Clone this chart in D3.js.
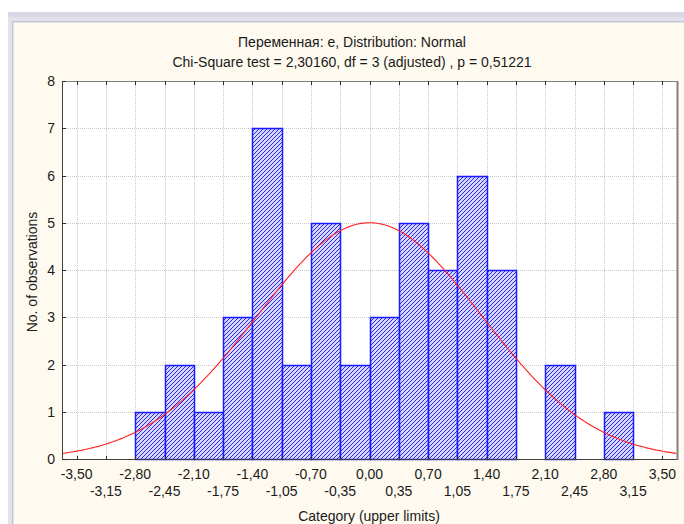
<!DOCTYPE html>
<html>
<head>
<meta charset="utf-8">
<script src="https://cdn.jsdelivr.net/npm/d3@7"></script>
<style>
  html, body { margin: 0; padding: 0; background: #fff; }
  svg { display: block; font-family: "Liberation Sans", Arial, sans-serif; }
</style>
</head>
<body>
<svg id="chart" width="684" height="524"></svg>
<script>
// histogram of variable e with fitted normal curve (Statistica style)

const width = 684;
const height = 524;

// bin upper limits, counts (bin width 0.35)
const binUpper = [-2.45, -2.10, -1.75, -1.40, -1.05, -0.70, -0.35, 0.00, 0.35, 0.70, 1.05, 1.40, 1.75, 2.10, 2.45, 2.80, 3.15];
const counts   = [1, 2, 1, 3, 7, 2, 5, 2, 3, 5, 4, 6, 4, 0, 2, 0, 1];
const binWidth = 0.35;

// tick labels on the x axis, two staggered rows
const xTicksTop    = [-3.50, -2.80, -2.10, -1.40, -0.70, 0.00, 0.70, 1.40, 2.10, 2.80, 3.50];
const xTicksBottom = [-3.15, -2.45, -1.75, -1.05, -0.35, 0.35, 1.05, 1.75, 2.45, 3.15];
const yTicks = [0, 1, 2, 3, 4, 5, 6, 7, 8];

// fitted normal parameters
const fitMean = 0.0;
const fitSd = 1.3405;
const fitN = 48;

const titleLines = [
  'Переменная: e, Distribution: Normal',
  'Chi-Square test = 2,30160, df = 3 (adjusted) , p = 0,51221'
];
const xTitle = 'Category (upper limits)';
const yTitle = 'No. of observations';

const plot = { left: 62, right: 677, top: 81, bottom: 459 };

const svg = d3.select('#chart')
  .attr('viewBox', `0 0 ${width} ${height}`);

// window frame
svg.append('rect').attr('x', 8).attr('y', 12).attr('width', width - 8).attr('height', height - 12)
  .attr('fill', '#e3e1eb');
svg.append('rect').attr('x', 8).attr('y', 12).attr('width', width - 8).attr('height', 5)
  .attr('fill', '#d9d7e3');
svg.append('rect').attr('x', 12.5).attr('y', 21.5).attr('width', width).attr('height', height)
  .attr('fill', 'none').attr('stroke', '#c3c1d2');
svg.append('rect').attr('x', 14).attr('y', 23).attr('width', width).attr('height', height)
  .attr('fill', '#fffaef');

const defs = svg.append('defs');
const pat = defs.append('pattern')
  .attr('id', 'hatch')
  .attr('patternUnits', 'userSpaceOnUse')
  .attr('width', 4).attr('height', 4);
pat.append('rect').attr('width', 4).attr('height', 4).attr('fill', '#d6d6ff');
pat.append('path')
  .attr('d', 'M-1,1 l2,-2 M0,4 l4,-4 M3,5 l2,-2')
  .attr('stroke', '#2828f4').attr('stroke-width', 1);

const x = d3.scaleLinear()
  .domain([-3.675, 3.675])
  .range([plot.left, plot.right]);

const y = d3.scaleLinear()
  .domain([0, 8])
  .range([plot.bottom, plot.top]);

// plot background
svg.append('rect')
  .attr('x', plot.left).attr('y', plot.top)
  .attr('width', plot.right - plot.left).attr('height', plot.bottom - plot.top)
  .attr('fill', '#fff');

// grid
const allX = xTicksTop.concat(xTicksBottom).sort(d3.ascending);
svg.append('g')
  .selectAll('line')
  .data(allX)
  .join('line')
    .attr('x1', d => Math.round(x(d)) + 0.5).attr('x2', d => Math.round(x(d)) + 0.5)
    .attr('y1', plot.top).attr('y2', plot.bottom)
    .attr('stroke', '#c8c8c8').attr('stroke-dasharray', '1,1');
svg.append('g')
  .selectAll('line')
  .data(yTicks.slice(1, -1))
  .join('line')
    .attr('x1', plot.left).attr('x2', plot.right)
    .attr('y1', d => Math.round(y(d)) + 0.5).attr('y2', d => Math.round(y(d)) + 0.5)
    .attr('stroke', '#c8c8c8').attr('stroke-dasharray', '1,1');

// bars
svg.append('g')
  .selectAll('rect')
  .data(counts.map((c, i) => ({ hi: binUpper[i], c })).filter(d => d.c > 0))
  .join('rect')
    .attr('x', d => Math.round(x(d.hi - binWidth)) + 0.5)
    .attr('width', d => Math.round(x(d.hi)) - Math.round(x(d.hi - binWidth)))
    .attr('y', d => Math.round(y(d.c)) + 0.5)
    .attr('height', d => plot.bottom - Math.round(y(d.c)))
    .attr('fill', 'url(#hatch)')
    .attr('stroke', '#1a1aff')
    .attr('stroke-width', 1.5);

// fitted normal curve (expected counts per bin)
const curveX = d3.range(-3.675, 3.676, 0.02);
const expected = v => fitN * binWidth / (fitSd * Math.sqrt(2 * Math.PI)) *
  Math.exp(-((v - fitMean) ** 2) / (2 * fitSd * fitSd));
svg.append('path')
  .datum(curveX)
  .attr('fill', 'none')
  .attr('stroke', '#ff2020')
  .attr('stroke-width', 1.1)
  .attr('d', d3.line().x(d => x(d)).y(d => y(expected(d))));

// axes frame
svg.append('line').attr('x1', plot.left + 0.5).attr('x2', plot.left + 0.5)
  .attr('y1', plot.top).attr('y2', plot.bottom + 1).attr('stroke', '#404040');
svg.append('line').attr('x1', plot.left).attr('x2', plot.right)
  .attr('y1', plot.bottom + 0.5).attr('y2', plot.bottom + 0.5).attr('stroke', '#404040');
svg.append('line').attr('x1', plot.left).attr('x2', plot.right)
  .attr('y1', plot.top + 0.5).attr('y2', plot.top + 0.5).attr('stroke', '#808080');
svg.append('line').attr('x1', plot.right + 0.5).attr('x2', plot.right + 0.5)
  .attr('y1', plot.top).attr('y2', plot.bottom + 1).attr('stroke', '#808080').attr('stroke-width', 2);

// ticks
svg.append('g')
  .selectAll('line')
  .data(allX)
  .join('line')
    .attr('x1', d => Math.round(x(d)) + 0.5).attr('x2', d => Math.round(x(d)) + 0.5)
    .attr('y1', plot.top).attr('y2', plot.top + 4)
    .attr('stroke', '#303030');
svg.append('g')
  .selectAll('line')
  .data(allX)
  .join('line')
    .attr('x1', d => Math.round(x(d)) + 0.5).attr('x2', d => Math.round(x(d)) + 0.5)
    .attr('y1', plot.bottom - 3).attr('y2', plot.bottom)
    .attr('stroke', '#303030');
svg.append('g')
  .selectAll('line')
  .data(yTicks)
  .join('line')
    .attr('x1', plot.left).attr('x2', plot.left + 4)
    .attr('y1', d => Math.round(y(d)) + 0.5).attr('y2', d => Math.round(y(d)) + 0.5)
    .attr('stroke', '#303030');

const fmt = v => d3.format('.2f')(v).replace('.', ',').replace('−', '-');
const labelStyle = sel => sel
  .attr('font-size', 14)
  .attr('fill', '#1a1a1a');

svg.append('g')
  .selectAll('text')
  .data(xTicksTop)
  .join('text')
    .attr('x', d => x(d))
    .attr('y', 479)
    .attr('text-anchor', 'middle')
    .call(labelStyle)
    .text(fmt);
svg.append('g')
  .selectAll('text')
  .data(xTicksBottom)
  .join('text')
    .attr('x', d => x(d))
    .attr('y', 496)
    .attr('text-anchor', 'middle')
    .call(labelStyle)
    .text(fmt);
svg.append('g')
  .selectAll('text')
  .data(yTicks)
  .join('text')
    .attr('x', 55)
    .attr('y', d => y(d) + 5)
    .attr('text-anchor', 'end')
    .call(labelStyle)
    .text(d => d);

// titles
svg.append('g')
  .selectAll('text')
  .data(titleLines)
  .join('text')
    .attr('x', 352)
    .attr('y', (d, i) => 47 + i * 20)
    .attr('text-anchor', 'middle')
    .call(labelStyle)
    .text(d => d);

svg.append('text')
  .attr('x', 369).attr('y', 521)
  .attr('text-anchor', 'middle')
  .call(labelStyle)
  .text(xTitle);

svg.append('text')
  .attr('transform', `translate(37,${(plot.top + plot.bottom) / 2 + 2}) rotate(-90)`)
  .attr('text-anchor', 'middle')
  .call(labelStyle)
  .text(yTitle);
</script>
</body>
</html>
